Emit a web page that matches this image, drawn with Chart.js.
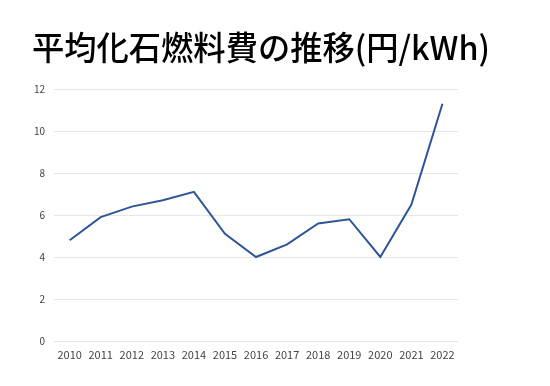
<!DOCTYPE html>
<html>
<head>
<meta charset="utf-8">
<script src="https://cdn.jsdelivr.net/npm/chart.js@4"></script>
<style>
  body { margin: 0; background: #fff; }
  #wrap { width: 550px; height: 386px; }
</style>
</head>
<body>
<div id="wrap"><canvas id="myChart"></canvas></div>
<script>
// données du graphique
const years = ['2010', '2011', '2012', '2013', '2014', '2015', '2016', '2017', '2018', '2019', '2020', '2021', '2022'];
const fuelCost = [4.8, 5.9, 6.4, 6.7, 7.1, 5.1, 4.0, 4.6, 5.6, 5.8, 4.0, 6.5, 11.3];
const yTicks = [0, 2, 4, 6, 8, 10, 12];
const chartTitle = '平均化石燃料費の推移(円/kWh)';

const jpFont = '"Noto Sans CJK JP", "Noto Sans", sans-serif';

// le titre est centré sur tout le canvas (pas seulement sur la zone du graphe)
const titlePlugin = {
    id: 'bigTitle',
    afterDraw(chart) {
        const c = chart.ctx;
        c.save();
        c.font = '500 33px ' + jpFont;
        c.fillStyle = '#000';
        c.textAlign = 'center';
        c.textBaseline = 'middle';
        c.fillText(chartTitle, 261, 47, 458);
        c.restore();
    }
};

const ctx = document.getElementById('myChart').getContext('2d');
const myChart = new Chart(ctx, {
    type: 'line',
    data: {
        labels: years,
        datasets: [{
            label: '平均化石燃料費',
            data: fuelCost,
            borderColor: '#2F5597',
            borderWidth: 2,
            pointRadius: 0,
            tension: 0,
            fill: false
        }]
    },
    plugins: [titlePlugin],
    options: {
        responsive: true,
        maintainAspectRatio: false,
        animation: false,
        layout: {
            padding: { left: 25, right: 92, top: 89, bottom: 26 }
        },
        plugins: {
            legend: { display: false },
            tooltip: { enabled: false },
            title: { display: false }
        },
        scales: {
            x: {
                offset: true,
                grid: { display: false },
                border: { display: false },
                ticks: {
                    color: '#444',
                    font: { family: jpFont, size: 11, lineHeight: 1.0 },
                    padding: 0,
                    maxRotation: 0,
                    autoSkip: false
                }
            },
            y: {
                min: 0,
                max: 12,
                afterBuildTicks: (axis) => {
                    axis.ticks = yTicks.map(v => ({ value: v }));
                },
                grid: { color: '#e6e6e6', drawTicks: false, lineWidth: 1 },
                border: { display: false },
                ticks: {
                    color: '#444',
                    font: { family: jpFont, size: 10 },
                    padding: 9
                }
            }
        }
    }
});
</script>
</body>
</html>
